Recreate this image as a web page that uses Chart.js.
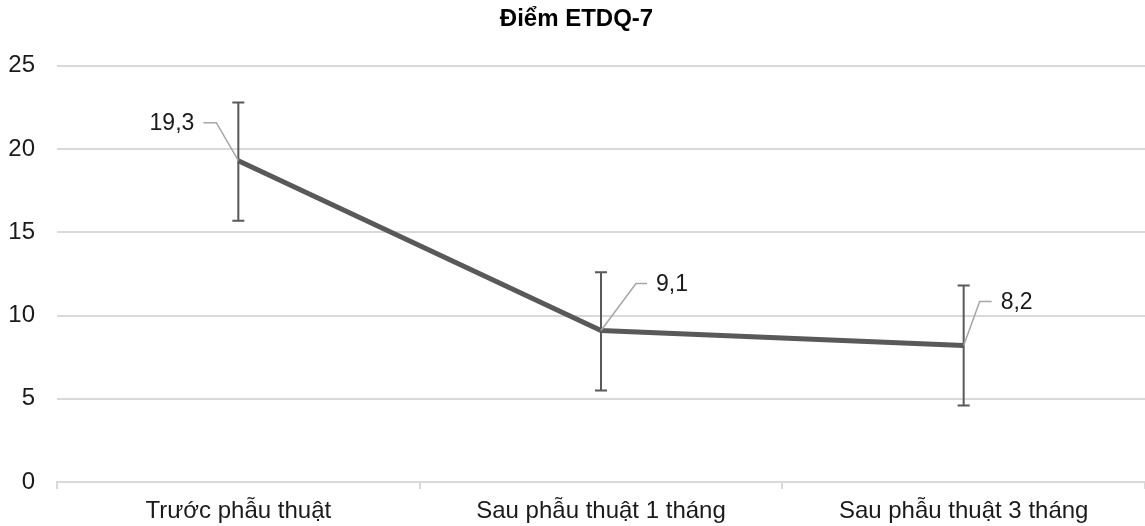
<!DOCTYPE html>
<html>
<head>
<meta charset="utf-8">
<script src="https://cdn.jsdelivr.net/npm/chart.js@4"></script>
<style>
  html, body { margin: 0; padding: 0; background: #ffffff; }
  canvas { display: block; }
</style>
</head>
<body>
<canvas id="etdqChart" width="1145" height="526"></canvas>
<script>
// Data
const categories = ['Trước phẫu thuật', 'Sau phẫu thuật 1 tháng', 'Sau phẫu thuật 3 tháng'];
const meanScores = [19.3, 9.1, 8.2];
const upperBounds = [22.8, 12.6, 11.8];
const lowerBounds = [15.7, 5.5, 4.6];
const yTicks = [0, 5, 10, 15, 20, 25];

// Leader-line label placement, pixels relative to each point
const labelOffsets = [
    { elbowX: -22, elbowY: -38, endX: -35, textX: -44, align: 'right' },
    { elbowX: 35, elbowY: -47, endX: 46, textX: 55, align: 'left' },
    { elbowX: 16, elbowY: -44, endX: 28, textX: 37, align: 'left' }
];

const FONT = "'Liberation Sans', Arial, sans-serif";
const formatVi = (v) => v.toFixed(1).replace('.', ',');

// Error bars, drawn under the line
const errorBarPlugin = {
    id: 'errorBars',
    beforeDatasetsDraw(chart) {
        const { ctx, scales: { x, y } } = chart;
        ctx.save();
        ctx.strokeStyle = '#595959';
        ctx.lineWidth = 2;
        categories.forEach((c, i) => {
            const px = x.getPixelForValue(i);
            const top = y.getPixelForValue(upperBounds[i]);
            const bot = y.getPixelForValue(lowerBounds[i]);
            ctx.beginPath();
            ctx.moveTo(px, top);
            ctx.lineTo(px, bot);
            ctx.moveTo(px - 6, top);
            ctx.lineTo(px + 6, top);
            ctx.moveTo(px - 6, bot);
            ctx.lineTo(px + 6, bot);
            ctx.stroke();
        });
        ctx.restore();
    }
};

// Value labels with leader lines
const leaderLabelPlugin = {
    id: 'leaderLabels',
    afterDatasetsDraw(chart) {
        const { ctx } = chart;
        const meta = chart.getDatasetMeta(0);
        ctx.save();
        meta.data.forEach((pt, i) => {
            const o = labelOffsets[i];
            ctx.strokeStyle = '#a6a6a6';
            ctx.lineWidth = 1.5;
            ctx.beginPath();
            ctx.moveTo(pt.x, pt.y);
            ctx.lineTo(pt.x + o.elbowX, pt.y + o.elbowY);
            ctx.lineTo(pt.x + o.endX, pt.y + o.elbowY);
            ctx.stroke();

            ctx.fillStyle = '#1a1a1a';
            ctx.font = '23px ' + FONT;
            ctx.textAlign = o.align;
            ctx.textBaseline = 'middle';
            ctx.fillText(formatVi(meanScores[i]), pt.x + o.textX, pt.y + o.elbowY + 1);
        });
        ctx.restore();
    }
};

function initChart() {
    Chart.defaults.font.family = FONT;
    Chart.defaults.color = '#1a1a1a';

    const ctx = document.getElementById('etdqChart').getContext('2d');
    new Chart(ctx, {
        type: 'line',
        data: {
            labels: categories,
            datasets: [{
                label: 'Điểm ETDQ-7',
                data: meanScores,
                borderColor: '#595959',
                borderWidth: 5,
                pointRadius: 0,
                pointHoverRadius: 0,
                tension: 0,
                fill: false
            }]
        },
        options: {
            responsive: false,
            animation: false,
            layout: { padding: { left: 8, right: 0, top: 0, bottom: 0 } },
            scales: {
                x: {
                    offset: true,
                    afterFit: (axis) => { axis.height = 44; },
                    grid: {
                        offset: true,
                        drawOnChartArea: false,
                        drawTicks: true,
                        tickLength: 7,
                        color: '#d9d9d9',
                        lineWidth: 2
                    },
                    border: { display: true, color: '#d9d9d9', width: 2 },
                    ticks: {
                        font: { size: 24 },
                        color: '#1a1a1a',
                        padding: 8,
                        maxRotation: 0
                    }
                },
                y: {
                    min: 0,
                    max: 25,
                    afterFit: (axis) => { axis.width = 49; },
                    afterBuildTicks: (axis) => {
                        axis.ticks = yTicks.map(v => ({ value: v }));
                    },
                    grid: {
                        drawTicks: false,
                        color: '#d9d9d9',
                        lineWidth: 2
                    },
                    border: { display: false },
                    ticks: {
                        font: { size: 24 },
                        color: '#1a1a1a',
                        padding: 22
                    }
                }
            },
            plugins: {
                legend: { display: false },
                tooltip: { enabled: false },
                title: {
                    display: true,
                    text: 'Điểm ETDQ-7',
                    color: '#000000',
                    font: { size: 24, weight: 'bold' },
                    padding: { top: 5, bottom: 32 }
                }
            }
        },
        plugins: [errorBarPlugin, leaderLabelPlugin]
    });
}

document.addEventListener('DOMContentLoaded', initChart);
</script>
</body>
</html>
